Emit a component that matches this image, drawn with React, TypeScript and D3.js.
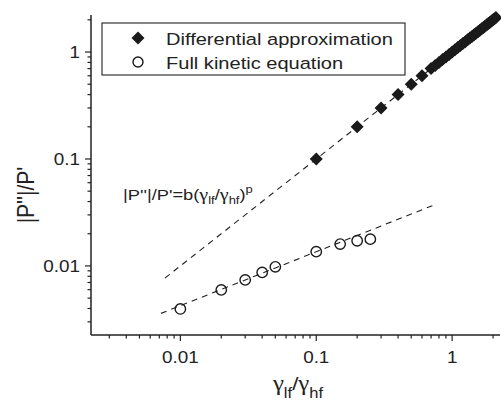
import { useMemo } from "react";
import * as d3 from "d3";

// Differential approximation (filled diamonds)
const diffX = [0.1, 0.2, 0.3, 0.4, 0.5, 0.6, 0.7, 0.75, 0.8, 0.85, 0.9, 0.95, 1.0, 1.05, 1.1, 1.15, 1.2, 1.25, 1.3, 1.35, 1.4, 1.45, 1.5, 1.55, 1.6, 1.65, 1.7, 1.75, 1.8, 1.85, 1.9, 1.95, 2.0, 2.05, 2.1];
const diffY = [0.1, 0.2, 0.3, 0.4, 0.5, 0.6, 0.7, 0.75, 0.8, 0.85, 0.9, 0.95, 1.0, 1.05, 1.1, 1.15, 1.2, 1.25, 1.3, 1.35, 1.4, 1.45, 1.5, 1.55, 1.6, 1.65, 1.7, 1.75, 1.8, 1.85, 1.9, 1.95, 2.0, 2.05, 2.1];

// Full kinetic equation (open circles)
const fullX = [0.01, 0.02, 0.03, 0.04, 0.05, 0.1, 0.15, 0.2, 0.25];
const fullY = [0.00396, 0.00597, 0.0074, 0.0087, 0.0098, 0.0136, 0.016, 0.0172, 0.0178];

// power-law fits (dashed), end points only
const fitUpX = [0.0077, 2.3];
const fitUpY = [0.0077, 2.3];
const fitLowX = [0.0072, 0.75];
const fitLowY = [0.0036, 0.0375];

const xTickLabels = ["0.01", "0.1", "1"];
const yTickLabels = ["1", "0.1", "0.01"];
const legendLabels = ["Differential approximation", "Full kinetic equation"];

const X0 = 91, X1 = 500, Y0 = 335, Y1 = 15;
const FONT = "'Liberation Sans', Arial, Helvetica, sans-serif";
const GREEK = "'Liberation Serif', 'Times New Roman', serif";
const SX = 1.18; // the figure is stretched horizontally

const T = ({ x, y, size, anchor = "start", children }: any) => (
  <text
    transform={`translate(${x},${y}) scale(${SX},1)`}
    fontSize={size}
    textAnchor={anchor}
    fontFamily={FONT}
    fill="#222"
  >
    {children}
  </text>
);

export default function App() {
  const x = useMemo(() => d3.scaleLog().domain([0.0022, 2.25]).range([X0, X1]), []);
  const y = useMemo(() => d3.scaleLog().domain([0.00226, 2.22]).range([Y0, Y1]), []);

  const xTicks = x.ticks();
  const yTicks = y.ticks();
  const isMajor = (v: number) => Math.abs(Math.log10(v) - Math.round(Math.log10(v))) < 1e-6;

  const line = d3
    .line<[number, number]>()
    .x((d) => x(d[0]))
    .y((d) => y(d[1]));

  const diamond = (cx: number, cy: number) =>
    `M${cx},${cy - 6.5}L${cx + 6.5},${cy}L${cx},${cy + 6.5}L${cx - 6.5},${cy}Z`;

  return (
    <svg
      width={501}
      height={400}
      style={{ position: "absolute", left: 0, top: 0, background: "#fff" }}
    >
      <rect width={501} height={400} fill="#fff" />

      {/* fits */}
      <path
        d={line(fitUpX.map((v, i) => [v, fitUpY[i]]) as any) || ""}
        fill="none"
        stroke="#222"
        strokeWidth={1.1}
        strokeDasharray="6,5"
      />
      <path
        d={line(fitLowX.map((v, i) => [v, fitLowY[i]]) as any) || ""}
        fill="none"
        stroke="#222"
        strokeWidth={1.1}
        strokeDasharray="6,5"
      />

      {/* data */}
      {diffX.map((v, i) => (
        <path key={"d" + i} d={diamond(x(v), y(diffY[i]))} fill="#1a1a1a" />
      ))}
      {fullX.map((v, i) => (
        <circle
          key={"c" + i}
          cx={x(v)}
          cy={y(fullY[i])}
          r={5.2}
          fill="none"
          stroke="#1a1a1a"
          strokeWidth={1.4}
        />
      ))}

      {/* axes */}
      <line x1={X0} y1={Y0} x2={X1} y2={Y0} stroke="#222" strokeWidth={1.5} />
      <line x1={X0} y1={Y0} x2={X0} y2={Y1} stroke="#222" strokeWidth={1.5} />
      {xTicks.map((t, i) => (
        <line
          key={"xt" + i}
          x1={x(t)}
          x2={x(t)}
          y1={Y0}
          y2={Y0 + (isMajor(t) ? 6 : 3.5)}
          stroke="#222"
          strokeWidth={1.2}
        />
      ))}
      {yTicks.map((t, i) => (
        <line
          key={"yt" + i}
          y1={y(t)}
          y2={y(t)}
          x1={X0}
          x2={X0 - (isMajor(t) ? 6 : 3.5)}
          stroke="#222"
          strokeWidth={1.2}
        />
      ))}
      {xTickLabels.map((s) => (
        <T key={"xl" + s} x={x(+s)} y={363} size={16} anchor="middle">
          {s}
        </T>
      ))}
      {yTickLabels.map((s) => (
        <T key={"yl" + s} x={80} y={y(+s) + 5.6} size={16} anchor="end">
          {s}
        </T>
      ))}

      {/* axis titles */}
      <text
        transform={`translate(34,195) rotate(-90) scale(1,${SX})`}
        fontSize={21}
        textAnchor="middle"
        fontFamily={FONT}
        fill="#222"
      >
        |P''|/P'
      </text>
      <T x={298} y={390} size={19} anchor="middle">
        <tspan fontFamily={GREEK} fontSize={21}>γ</tspan>
        <tspan fontSize={14} dy={8}>lf</tspan>
        <tspan dy={-8}>/</tspan>
        <tspan fontFamily={GREEK} fontSize={21}>γ</tspan>
        <tspan fontSize={14} dy={8}>hf</tspan>
      </T>

      {/* formula */}
      <T x={123} y={200} size={15.5}>
        |P''|/P'=b(
        <tspan fontFamily={GREEK} fontSize={17}>γ</tspan>
        <tspan fontSize={11} dy={4}>lf</tspan>
        <tspan dy={-4}>/</tspan>
        <tspan fontFamily={GREEK} fontSize={17}>γ</tspan>
        <tspan fontSize={11} dy={4}>hf</tspan>
        <tspan dy={-4}>)</tspan>
        <tspan fontSize={11} dy={-7}>p</tspan>
      </T>

      {/* legend */}
      <rect x={102} y={23} width={303} height={52} fill="#fff" stroke="#222" strokeWidth={1.1} />
      <path d={diamond(138, 38)} fill="#1a1a1a" />
      <circle cx={138} cy={62} r={5} fill="none" stroke="#1a1a1a" strokeWidth={1.4} />
      <T x={166} y={44.5} size={17}>
        {legendLabels[0]}
      </T>
      <T x={166} y={68.5} size={17}>
        {legendLabels[1]}
      </T>
    </svg>
  );
}
